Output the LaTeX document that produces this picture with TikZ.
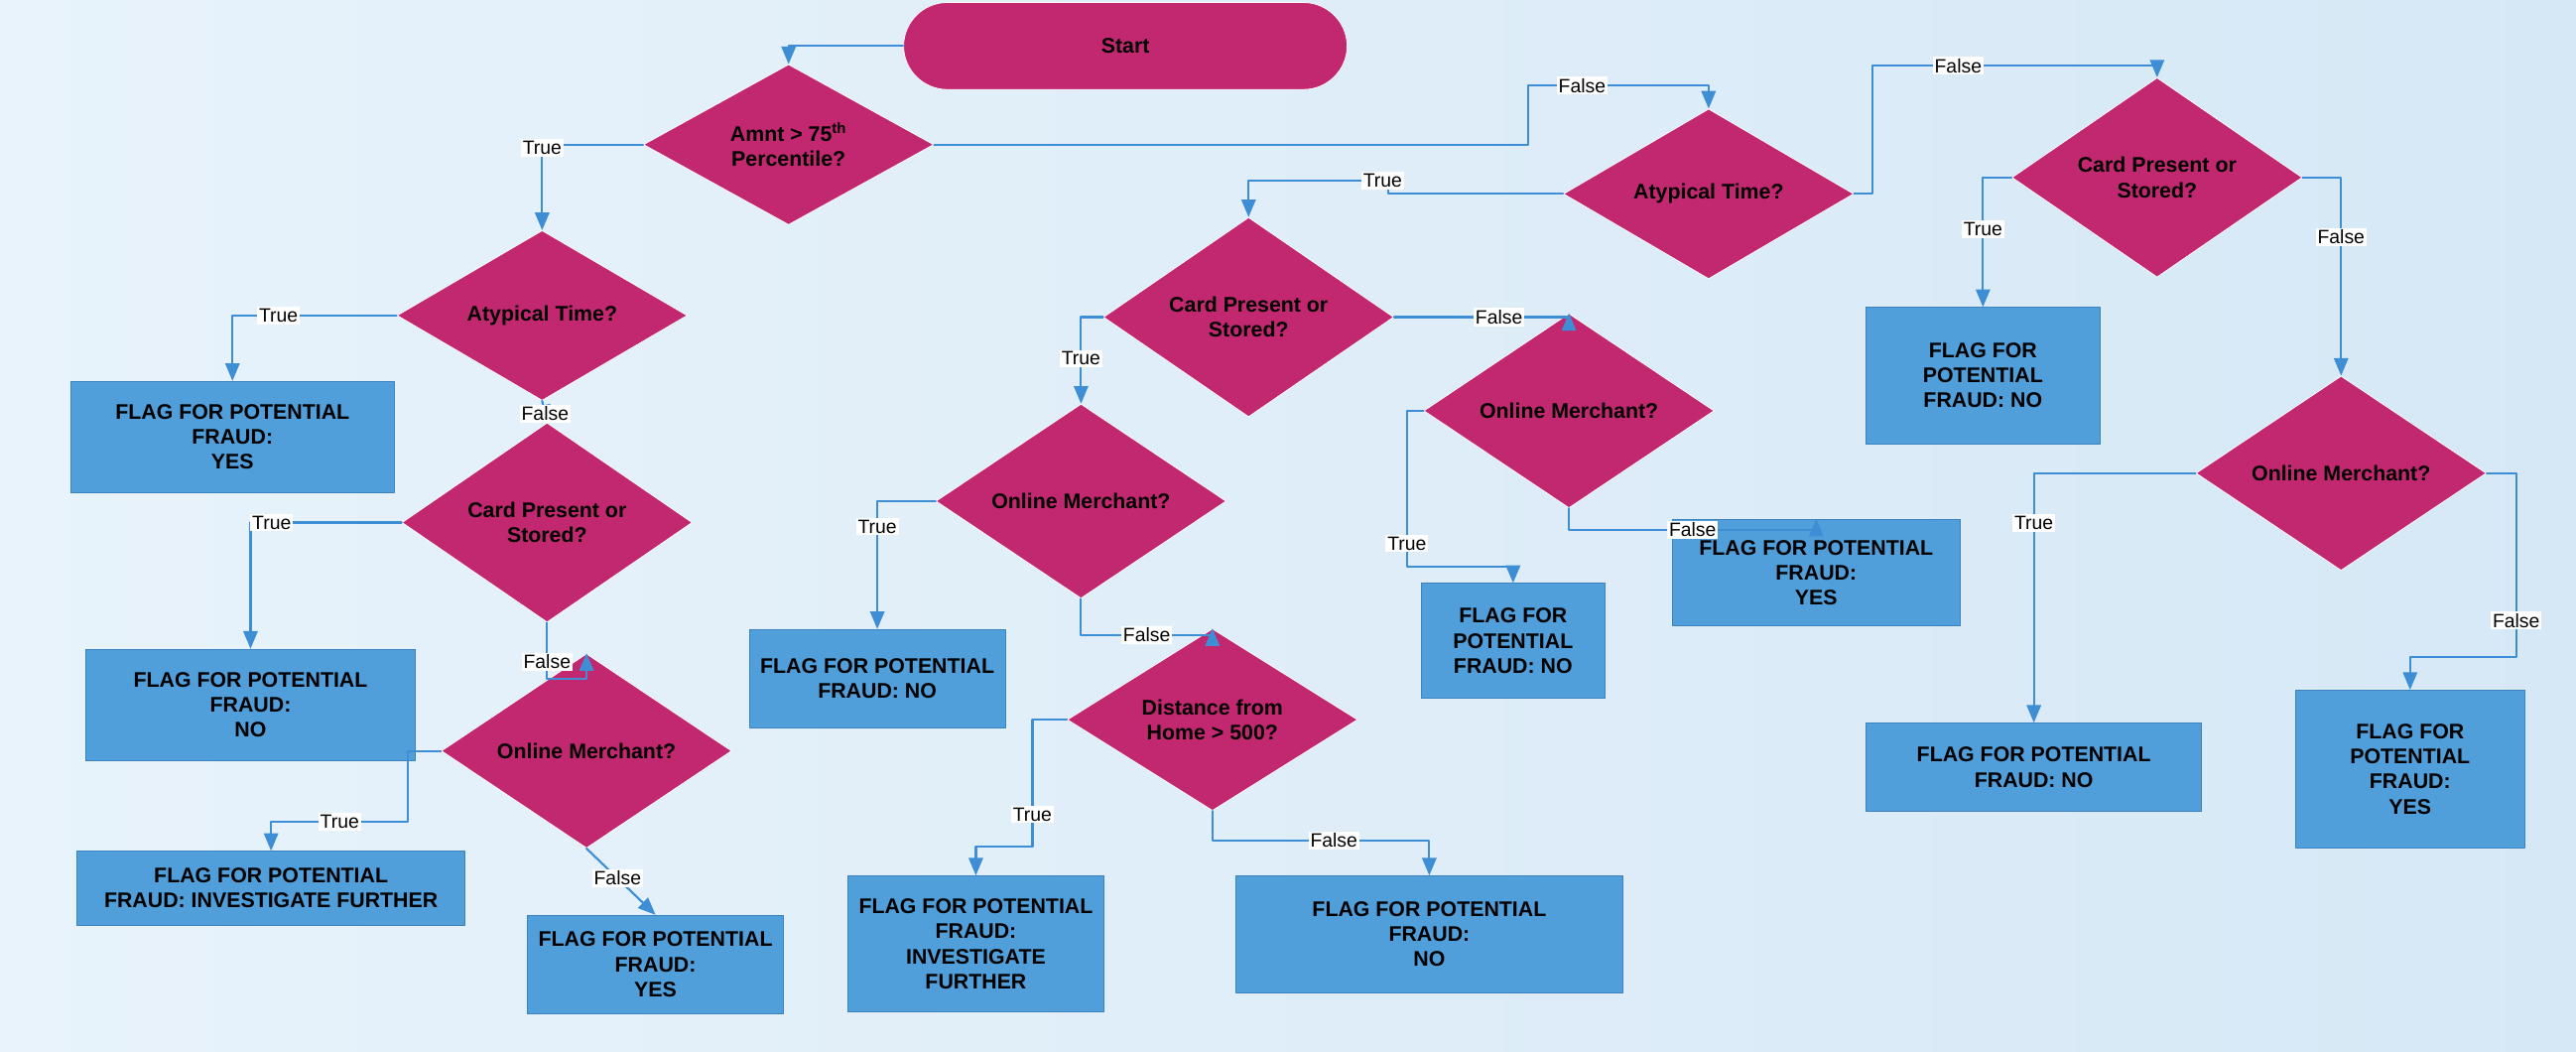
\documentclass[tikz,border=0pt]{standalone}
\usepackage{fontspec}
\setmainfont{Liberation Sans}
\usetikzlibrary{arrows,shapes.geometric}
\definecolor{mgnt}{RGB}{194,40,111}
\definecolor{bxblue}{RGB}{80,159,219}
\definecolor{bxedge}{RGB}{60,130,190}
\definecolor{lnblue}{RGB}{62,142,214}
\definecolor{bgl}{RGB}{232,243,251}
\definecolor{bgr}{RGB}{214,232,246}
\tikzset{
  dia/.style={diamond,draw=white,fill=mgnt,inner sep=0pt,minimum width=5.3cm,minimum height=2.75cm,align=center,font=\fontsize{11}{13}\selectfont\bfseries},
  box/.style={rectangle,draw=bxedge,fill=bxblue,inner sep=2pt,align=center,font=\fontsize{11}{13}\selectfont\bfseries},
  lbl/.style={fill=white,inner sep=1pt,font=\fontsize{10}{12}\selectfont},
  con/.style={draw=lnblue,line width=1.1pt,->}
}
\begin{document}
\begin{tikzpicture}[line cap=round,line join=round,>=triangle 45,x=0.03cm,y=-0.03cm]
\useasboundingbox (0,0) rectangle (1568,640);
\shade[left color=bgl,right color=bgr] (0,0) rectangle (1568,640);
% start and decisions
\node[rectangle,rounded corners=0.8cm,draw=white,fill=mgnt,minimum width=8.1cm,minimum height=1.59cm,font=\fontsize{11}{13}\selectfont\bfseries] (start) at (685,28) {Start};
\node[dia] (d1) at (480,88) {Amnt > 75\textsuperscript{th}\\Percentile?};
\node[dia] (d2) at (330,192) {Atypical Time?};
\node[dia] (d3) at (333,318) {Card Present or\\Stored?};
\node[dia] (d4) at (357,457) {Online Merchant?};
\node[dia] (d5) at (1040,118) {Atypical Time?};
\node[dia] (d6) at (760,193) {Card Present or\\Stored?};
\node[dia] (d7) at (658,305) {Online Merchant?};
\node[dia] (d8) at (738,438) {Distance from\\Home > 500?};
\node[dia] (d9) at (1313,108) {Card Present or\\Stored?};
\node[dia] (d10) at (955,250) {Online Merchant?};
\node[dia] (d11) at (1425,288) {Online Merchant?};
% outcomes
\node[box,minimum width=5.91cm,minimum height=2.04cm] (b1) at (141.5,266) {FLAG FOR POTENTIAL\\FRAUD:\\YES};
\node[box,minimum width=6.03cm,minimum height=2.04cm] (b2) at (152.5,429) {FLAG FOR POTENTIAL\\FRAUD:\\NO};
\node[box,minimum width=7.08cm,minimum height=1.35cm] (b3) at (165,540.5) {FLAG FOR POTENTIAL\\FRAUD: INVESTIGATE FURTHER};
\node[box,minimum width=4.68cm,minimum height=1.8cm] (b4) at (399,587) {FLAG FOR POTENTIAL\\FRAUD:\\YES};
\node[box,minimum width=4.68cm,minimum height=1.8cm] (b5) at (534,413) {FLAG FOR POTENTIAL\\FRAUD: NO};
\node[box,minimum width=4.68cm,minimum height=2.49cm] (b6) at (594,574.5) {FLAG FOR POTENTIAL\\FRAUD:\\INVESTIGATE\\FURTHER};
\node[box,minimum width=7.08cm,minimum height=2.13cm] (b7) at (870,568.5) {FLAG FOR POTENTIAL\\FRAUD:\\NO};
\node[box,minimum width=3.36cm,minimum height=2.1cm] (b8) at (921,390) {FLAG FOR\\POTENTIAL\\FRAUD: NO};
\node[box,minimum width=5.25cm,minimum height=1.95cm] (b9) at (1105.5,348.5) {FLAG FOR POTENTIAL\\FRAUD:\\YES};
\node[box,minimum width=4.26cm,minimum height=2.49cm] (b10) at (1207,228.5) {FLAG FOR\\POTENTIAL\\FRAUD: NO};
\node[box,minimum width=6.12cm,minimum height=1.62cm] (b11) at (1238,467) {FLAG FOR POTENTIAL\\FRAUD: NO};
\node[box,minimum width=4.2cm,minimum height=2.88cm] (b12) at (1467,468) {FLAG FOR\\POTENTIAL\\FRAUD:\\YES};
% connectors, left branch
\draw[con] (start.west) -| (d1.north);
\draw[con] (d1.west) -| node[lbl,pos=0.52] {True} (d2.north);
\draw[con] (d2.west) -| node[lbl,pos=0.36] {True} (b1.north);
\draw[con] (d2.south) -- node[lbl,pos=0.6] {False} (d3.north);
\draw[con] (d3.west) -| node[lbl,pos=0.43] {True} (b2.north);
\draw[con] (d3.south) -- node[lbl,pos=0.7] {False} ++(0,34) -| (d4.north);
\draw[con] (d4.west) -- ++(-20,0) -- ++(0,43) -| node[lbl,pos=0.25] {True} (b3.north);
\draw[con] (d4.south) -- node[lbl,pos=0.45] {False} (b4.north);
% middle branch
\draw[con] (d1.east) -- (930,88) -- (930,52) -| node[lbl,pos=0.15] {False} (d5.north);
\draw[con] (d5.west) -- (845,118) -- (845,110) -| node[lbl,pos=0.02] {True} (d6.north);
\draw[con] (d6.west) -| node[lbl,pos=0.74] {True} (d7.north);
\draw[con] (d7.west) -| node[lbl,pos=0.6] {True} (b5.north);
\draw[con] (d7.south) -- ++(0,22) -| node[lbl,pos=0.25] {False} (d8.north);
\draw[con] (d8.west) -- ++(-21,0) -- node[lbl,pos=0.75] {True} ++(0,77) -| (b6.north);
\draw[con] (d8.south) -- ++(0,18) -| node[lbl,pos=0.28] {False} (b7.north);
\draw[con] (d6.east) -| node[lbl,pos=0.3] {False} (d10.north);
\draw[con] (d10.west) -- ++(-10,0) -- node[lbl,pos=0.85] {True} ++(0,95) -| (b8.north);
\draw[con] (d10.south) -- ++(0,13) -| node[lbl,pos=0.25] {False} (b9.north);
% right branch
\draw[con] (d5.east) -- (1140,118) -- (1140,40) -| node[lbl,pos=0.15] {False} (d9.north);
\draw[con] (d9.west) -| node[lbl,pos=0.7] {True} (b10.north);
\draw[con] (d9.east) -| node[lbl,pos=0.65] {False} (d11.north);
\draw[con] (d11.west) -| node[lbl,pos=0.6] {True} (b11.north);
\draw[con] (d11.east) -- ++(18,0) -- node[lbl,pos=0.8] {False} ++(0,112) -| (b12.north);
\end{tikzpicture}
\end{document}
